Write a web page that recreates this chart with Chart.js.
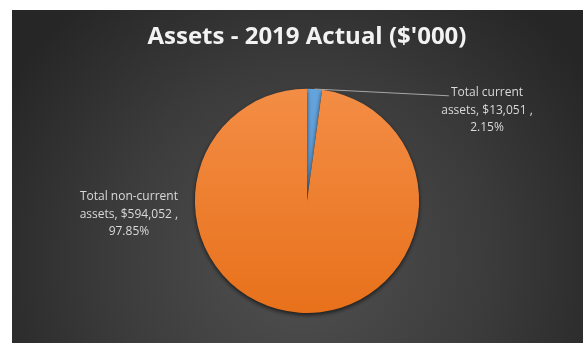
<!DOCTYPE html>
<html lang="en">
<head>
  <meta charset="UTF-8">
  <title>Assets - 2019 Actual</title>
  <style>
    * { box-sizing: border-box; margin:0; padding:0; }
    body { background:#fff; width:583px; height:343px; overflow:hidden; }
    #wrap { position:relative; width:583px; height:343px; }
  </style>
  <script src="https://cdn.jsdelivr.net/npm/chart.js"></script>
</head>
<body>
  <div id="wrap"><canvas id="assetsPie" width="583" height="343"></canvas></div>

  <script>
    const categories = ['Total current assets', 'Total non-current assets'];
    const values = [13051, 594052];
    const titleText = "Assets - 2019 Actual ($'000)";

    const total = values.reduce((a, b) => a + b, 0);
    const pct = v => (v / total * 100).toFixed(2) + '%';

    // split "Total current assets" -> ["Total current", "assets, $13,051 ,", "2.15%"]
    const labelLines = i => {
      const words = categories[i].split(' ');
      const last = words.pop();
      return [words.join(' '), `${last}, $${values[i].toLocaleString('en-US')} ,`, pct(values[i])];
    };

    // dark panel with a soft radial glow
    const panelBg = {
      id: 'panelBg',
      beforeDraw(chart) {
        const { ctx, width, height } = chart;
        ctx.save();
        ctx.fillStyle = '#fff';
        ctx.fillRect(0, 0, width, height);
        const g = ctx.createRadialGradient(300, 260, 10, 300, 260, 340);
        g.addColorStop(0, '#505050');
        g.addColorStop(0.55, '#3b3b3b');
        g.addColorStop(1, '#262626');
        ctx.fillStyle = g;
        ctx.fillRect(12, 10, width - 12, height - 10);
        ctx.restore();
      }
    };

    // drop shadow under the pie
    const pieShadow = {
      id: 'pieShadow',
      beforeDatasetsDraw(chart) {
        const ctx = chart.ctx;
        ctx.save();
        ctx.shadowColor = 'rgba(0,0,0,0.65)';
        ctx.shadowBlur = 4;
        ctx.shadowOffsetY = 2;
      },
      afterDatasetsDraw(chart) {
        chart.ctx.restore();
      }
    };

    // outside labels, Excel style
    const outsideLabels = {
      id: 'outsideLabels',
      afterDraw(chart) {
        const { ctx } = chart;
        const arcs = chart.getDatasetMeta(0).data;
        const a0 = arcs[0];
        const cx = a0.x, cy = a0.y, r = a0.outerRadius;
        const place = [
          { x: cx + 180, y: cy - r + 4, leader: true },
          { x: cx - r - 66, y: cy - 4, leader: false }
        ];
        ctx.save();
        ctx.font = '12px "Open Sans", sans-serif';
        ctx.textAlign = 'center';
        ctx.textBaseline = 'middle';
        arcs.forEach((arc, i) => {
          const p = place[i];
          const lines = labelLines(i);
          if (p.leader) {
            const mid = (arc.startAngle + arc.endAngle) / 2;
            const w = ctx.measureText(lines[0]).width;
            ctx.strokeStyle = '#a6a6a6';
            ctx.lineWidth = 1;
            ctx.beginPath();
            ctx.moveTo(cx + Math.cos(mid) * r, cy + Math.sin(mid) * r);
            ctx.lineTo(p.x - w / 2 - 2, p.y + 3);
            ctx.stroke();
          }
          ctx.fillStyle = '#d9d9d9';
          lines.forEach((t, k) => ctx.fillText(t, p.x, p.y + k * 17.5));
        });
        ctx.restore();
      }
    };

    const ctx = document.getElementById('assetsPie').getContext('2d');
    const orangeFill = ctx.createLinearGradient(0, 89, 0, 313);
    orangeFill.addColorStop(0, '#f38d45');
    orangeFill.addColorStop(1, '#e8711b');
    const blueFill = ctx.createLinearGradient(0, 89, 0, 313);
    blueFill.addColorStop(0, '#64a3dc');
    blueFill.addColorStop(1, '#4f8fcb');

    new Chart(ctx, {
      type: 'pie',
      data: {
        labels: categories,
        datasets: [{
          data: values,
          backgroundColor: [blueFill, orangeFill],
          borderWidth: 0
        }]
      },
      options: {
        responsive: false,
        animation: false,
        layout: { padding: { top: 10, bottom: 30, left: 100, right: 69 } },
        plugins: {
          legend: { display: false },
          tooltip: { enabled: false },
          title: {
            display: true,
            text: titleText,
            color: '#f2f2f2',
            font: { family: '"Open Sans", sans-serif', size: 24, weight: 'bold' },
            padding: { top: 13, bottom: 37 }
          }
        }
      },
      plugins: [panelBg, pieShadow, outsideLabels]
    });
  </script>
</body>
</html>
